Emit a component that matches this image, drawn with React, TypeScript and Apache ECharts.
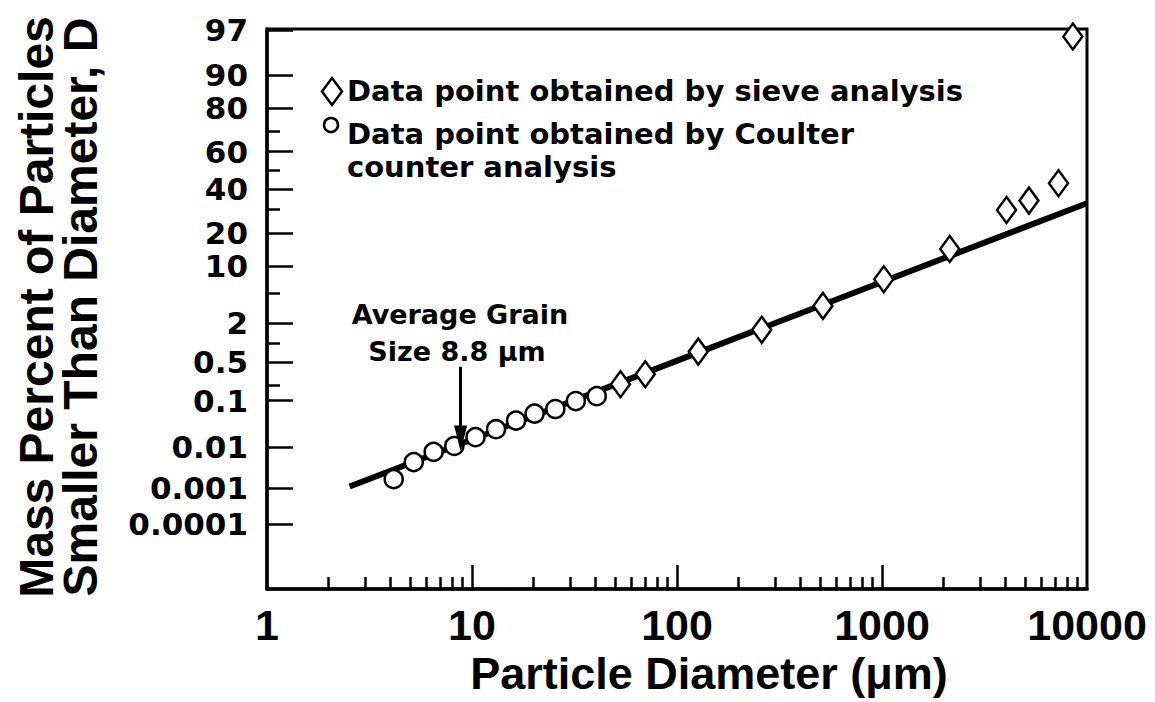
import React, { useEffect, useRef } from "react";
import * as echarts from "echarts";

// ---- data ----
const COULTER_DIAMETER = [4.15, 5.2, 6.5, 8.2, 10.4, 13.1, 16.4, 20.2, 25.5, 32.1, 40.6];
const COULTER_PERCENT = [0.0017, 0.0045, 0.0079, 0.0108, 0.0171, 0.0256, 0.0391, 0.0548, 0.068, 0.098, 0.122];

const SIEVE_DIAMETER = [53, 70, 127, 259, 515, 1020, 2140, 4050, 5210, 7260, 8530];
const SIEVE_PERCENT = [0.205, 0.311, 0.75, 1.62, 3.45, 7.2, 14.6, 29.8, 34.3, 43.2, 96.4];

const FIT_DIAMETER = [2.53, 10000];
const FIT_PERCENT = [0.0011, 33];

const ARROW_DIAMETER = 8.8;
const ARROW_PERCENT = [0.42, 0.016];

const X_TICK_LABELS = ["1", "10", "100", "1000", "10000"];
const X_MINOR_TICKS = [2, 3, 4, 5, 6, 7, 8, 9, 20, 30, 40, 50, 60, 70, 80, 90, 200, 300, 400, 500, 600, 700, 800, 900, 2000, 3000, 4000, 5000, 6000, 7000, 8000, 9000];
const Y_TICK_LABELS = ["97", "90", "80", "60", "40", "20", "10", "2", "0.5", "0.1", "0.01", "0.001", "0.0001"];
const Y_MINOR_TICKS = [70, 50, 30, 5, 1, 0.2];

const LEGEND_SIEVE = "Data point obtained by sieve analysis";
const LEGEND_COULTER = ["Data point obtained by Coulter", "counter analysis"];
const NOTE_LINES = ["Average Grain", "Size 8.8 \u03bcm"];
const X_TITLE = "Particle Diameter (\u03bcm)";
const Y_TITLE = ["Mass Percent of Particles", "Smaller Than Diameter, D"];

// ---- probability (probit) scale ----
function probit(p: number): number {
  const a = [-3.969683028665376e1, 2.209460984245205e2, -2.759285104469687e2, 1.38357751867269e2, -3.066479806614716e1, 2.506628277459239];
  const b = [-5.447609879822406e1, 1.615858368580409e2, -1.556989798598866e2, 6.680131188771972e1, -1.328068155288572e1];
  const c = [-7.784894002430293e-3, -3.223964580411365e-1, -2.400758277161838, -2.549671348193814, 4.374664141464968, 2.938163982698783];
  const d = [7.784695709041462e-3, 3.224671290700398e-1, 2.445134137142996, 3.754408661907416];
  const pl = 0.02425;
  if (p < pl) {
    const q = Math.sqrt(-2 * Math.log(p));
    return (((((c[0] * q + c[1]) * q + c[2]) * q + c[3]) * q + c[4]) * q + c[5]) / ((((d[0] * q + d[1]) * q + d[2]) * q + d[3]) * q + 1);
  }
  if (p <= 1 - pl) {
    const q = p - 0.5;
    const r = q * q;
    return ((((((a[0] * r + a[1]) * r + a[2]) * r + a[3]) * r + a[4]) * r + a[5]) * q) / (((((b[0] * r + b[1]) * r + b[2]) * r + b[3]) * r + b[4]) * r + 1);
  }
  const q = Math.sqrt(-2 * Math.log(1 - p));
  return -(((((c[0] * q + c[1]) * q + c[2]) * q + c[3]) * q + c[4]) * q + c[5]) / ((((d[0] * q + d[1]) * q + d[2]) * q + d[3]) * q + 1);
}
const py = (percent: number) => probit(percent / 100);
const px = (d: number) => Math.log10(d);

const Z_MIN = -5.62;
const Z_MAX = 1.9;

const Y_LABEL_VALUES = Y_TICK_LABELS.map((s) => py(parseFloat(s)));
const X_LABEL_VALUES = X_TICK_LABELS.map((s) => px(parseFloat(s)));

const pairs = (xs: number[], ys: number[]) => xs.map((x, i) => [px(x), py(ys[i])]);

const BOLD_DJ = (size: number) => `bold ${size}px "DejaVu Sans"`;
const BOLD_LS = (size: number) => `bold ${size}px "Liberation Sans"`;

export default function App() {
  const ref = useRef<HTMLDivElement>(null);

  useEffect(() => {
    if (!ref.current) return;
    const chart = echarts.init(ref.current, undefined, { renderer: "svg" });

    const axisCommon = {
      type: "value",
      splitLine: { show: false },
    };

    const option: any = {
      animation: false,
      backgroundColor: "#ffffff",
      grid: {
        left: 267,
        right: 68,
        top: 29,
        bottom: 113,
        show: true,
        borderColor: "#000",
        borderWidth: 3,
        backgroundColor: "transparent",
      },
      xAxis: [
        {
          ...axisCommon,
          min: 0,
          max: 4,
          position: "bottom",
          axisLine: { show: true, onZero: false, lineStyle: { color: "#000", width: 3.5 } },
          axisTick: { show: true, inside: true, length: 24, customValues: [1, 2, 3], lineStyle: { color: "#000", width: 2.5 } },
          axisLabel: {
            show: true,
            customValues: X_LABEL_VALUES,
            formatter: (v: number) => {
              const i = X_LABEL_VALUES.findIndex((t) => Math.abs(t - v) < 1e-6);
              return i >= 0 ? X_TICK_LABELS[i] : "";
            },
            color: "#000",
            fontFamily: "Liberation Sans",
            fontWeight: "bold",
            fontSize: 43,
            margin: 14,
            showMinLabel: true,
            showMaxLabel: true,
            hideOverlap: false,
          },
        },
        {
          ...axisCommon,
          min: 0,
          max: 4,
          position: "bottom",
          axisLine: { show: false, onZero: false },
          axisTick: { show: true, inside: true, length: 12, customValues: X_MINOR_TICKS.map(px), lineStyle: { color: "#000", width: 2.5 } },
          axisLabel: { show: false },
        },
      ],
      yAxis: [
        {
          ...axisCommon,
          min: Z_MIN,
          max: Z_MAX,
          position: "left",
          axisLine: { show: true, onZero: false, lineStyle: { color: "#000", width: 3.5 } },
          axisTick: { show: true, inside: true, length: 26, customValues: Y_LABEL_VALUES, lineStyle: { color: "#000", width: 2.5 } },
          axisLabel: {
            show: true,
            customValues: Y_LABEL_VALUES,
            formatter: (v: number) => {
              const i = Y_LABEL_VALUES.findIndex((t) => Math.abs(t - v) < 1e-6);
              return i >= 0 ? Y_TICK_LABELS[i] : "";
            },
            color: "#000",
            fontFamily: "DejaVu Sans",
            fontWeight: "bold",
            fontSize: 31,
            lineHeight: 29,
            margin: 19,
            showMinLabel: true,
            showMaxLabel: true,
            hideOverlap: false,
          },
        },
        {
          ...axisCommon,
          min: Z_MIN,
          max: Z_MAX,
          position: "left",
          axisLine: { show: false, onZero: false },
          axisTick: { show: true, inside: true, length: 13, customValues: Y_MINOR_TICKS.map(py), lineStyle: { color: "#000", width: 2.5 } },
          axisLabel: { show: false },
        },
      ],
      series: [
        {
          name: "Fit",
          type: "line",
          xAxisIndex: 0,
          yAxisIndex: 0,
          data: pairs(FIT_DIAMETER, FIT_PERCENT),
          symbol: "none",
          lineStyle: { color: "#000", width: 6 },
          z: 2,
          silent: true,
          markLine: {
            silent: true,
            symbol: ["none", "triangle"],
            symbolSize: [13, 26],
            label: { show: false },
            lineStyle: { color: "#000", width: 3, type: "solid" },
            data: [
              [
                { coord: [px(ARROW_DIAMETER), py(ARROW_PERCENT[0])] },
                { coord: [px(ARROW_DIAMETER), py(ARROW_PERCENT[1])] },
              ],
            ],
          },
        },
        {
          name: "Sieve analysis",
          type: "scatter",
          xAxisIndex: 0,
          yAxisIndex: 0,
          data: pairs(SIEVE_DIAMETER, SIEVE_PERCENT),
          symbol: "diamond",
          symbolSize: [19, 26],
          clip: false,
          itemStyle: { color: "#fff", borderColor: "#000", borderWidth: 2.5, opacity: 1 },
          z: 4,
        },
        {
          name: "Coulter counter analysis",
          type: "scatter",
          xAxisIndex: 0,
          yAxisIndex: 0,
          data: pairs(COULTER_DIAMETER, COULTER_PERCENT),
          symbol: "circle",
          symbolSize: 18,
          clip: false,
          itemStyle: { color: "#fff", borderColor: "#000", borderWidth: 2.5, opacity: 1 },
          z: 4,
        },
      ],
      graphic: [
        // legend
        {
          type: "polygon",
          shape: { points: [[332, 78], [342, 91.5], [332, 105], [322, 91.5]] },
          style: { fill: "#fff", stroke: "#000", lineWidth: 2.5 },
        },
        {
          type: "circle",
          shape: { cx: 331, cy: 125, r: 7 },
          style: { fill: "#fff", stroke: "#000", lineWidth: 2.5 },
        },
        {
          type: "text",
          x: 347,
          y: 91,
          style: { text: LEGEND_SIEVE, font: BOLD_DJ(29), fill: "#000", textAlign: "left", textVerticalAlign: "middle" },
        },
        {
          type: "text",
          x: 347,
          y: 134,
          style: { text: LEGEND_COULTER[0], font: BOLD_DJ(29), fill: "#000", textAlign: "left", textVerticalAlign: "middle" },
        },
        {
          type: "text",
          x: 347,
          y: 167,
          style: { text: LEGEND_COULTER[1], font: BOLD_DJ(29), fill: "#000", textAlign: "left", textVerticalAlign: "middle" },
        },
        // annotation
        {
          type: "text",
          x: 460,
          y: 314,
          style: { text: NOTE_LINES[0], font: BOLD_DJ(27), fill: "#000", textAlign: "center", textVerticalAlign: "middle" },
        },
        {
          type: "text",
          x: 457,
          y: 351,
          style: { text: NOTE_LINES[1], font: BOLD_DJ(27), fill: "#000", textAlign: "center", textVerticalAlign: "middle" },
        },
        // axis titles
        {
          type: "text",
          x: 709,
          y: 673,
          style: { text: X_TITLE, font: BOLD_LS(45), fill: "#000", textAlign: "center", textVerticalAlign: "middle" },
        },
        {
          type: "text",
          x: 36,
          y: 307,
          rotation: Math.PI / 2,
          style: { text: Y_TITLE[0], font: BOLD_LS(48), fill: "#000", textAlign: "center", textVerticalAlign: "middle" },
        },
        {
          type: "text",
          x: 80,
          y: 307,
          rotation: Math.PI / 2,
          style: { text: Y_TITLE[1], font: BOLD_LS(48), fill: "#000", textAlign: "center", textVerticalAlign: "middle" },
        },
      ],
    };

    chart.setOption(option);
    return () => chart.dispose();
  }, []);

  return (
    <div
      ref={ref}
      style={{ position: "fixed", left: 0, top: 0, width: 1155, height: 702, background: "#fff" }}
    />
  );
}
